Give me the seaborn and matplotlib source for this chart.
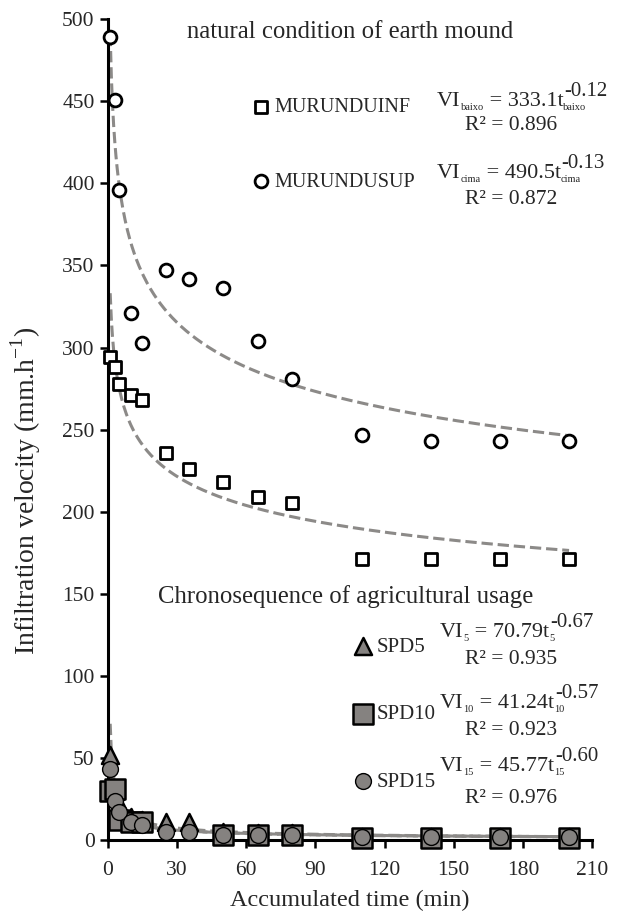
import numpy as np
import pandas as pd
import matplotlib
matplotlib.use("Agg")
import matplotlib.pyplot as plt
import seaborn as sns

# time of each reading (min)
time_min = [1, 3, 5, 10, 15, 25, 35, 50, 65, 80, 110, 140, 170, 200]

# natural condition of the earth mound (mm/h)
murundu_inf = [294, 288, 278, 271, 268, 236, 226, 218, 209, 205, 171, 171, 171, 171]
murundu_sup = [489, 451, 396, 321, 303, 347, 342, 336, 304, 281, 247, 243, 243, 243]

# chronosequence of agricultural usage (mm/h)
spd5 = [52, 30, 22, 14, 12, 11, 11, 5, 4, 4, 2, 2, 2, 2]
spd10 = [30, 31, 12, 11, 11, np.nan, np.nan, 3, 3, 3, 1, 1, 1, 1]
spd15 = [43, 24, 17, 11, 9, 5, 5, 3, 3, 3, 2, 2, 2, 2]

# power fits VI = a * t^b, as printed on the chart
fit_names = ["MURUNDUINF", "MURUNDUSUP", "SPD5", "SPD10", "SPD15"]
fit_a = [333.1, 490.5, 70.79, 41.24, 45.77]
fit_b = [-0.12, -0.13, -0.67, -0.57, -0.60]
fit_sub = ["baixo", "cima", "5", "10", "15"]
fit_r2 = ["0.896", "0.872", "0.935", "0.923", "0.976"]

x_ticks = [0, 30, 60, 90, 120, 150, 180, 210]
y_ticks = [0, 50, 100, 150, 200, 250, 300, 350, 400, 450, 500]

sns.set_style("ticks")
plt.rcParams['font.family'] = ['Liberation Serif', 'DejaVu Serif']
plt.rcParams['mathtext.fontset'] = 'custom'
plt.rcParams['mathtext.rm'] = 'Liberation Serif'

fig = plt.figure(figsize=(6.2, 9.17), dpi=100)
ax = fig.add_axes([0.174, 0.084, 0.781, 0.895])

# fitted curves
t_fit = np.linspace(1, 200, 400)
fit_df = pd.concat([
    pd.DataFrame({"t": t_fit, "v": a * t_fit ** b, "serie": n})
    for n, a, b in zip(fit_names, fit_a, fit_b)
])
for n in fit_names:
    sns.lineplot(data=fit_df[fit_df["serie"] == n], x="t", y="v", ax=ax,
                 color="#8c8a88", lw=2.2, dashes=(2.3, 1.3), linestyle="--",
                 legend=False, zorder=2)

mk_open = dict(color="white", edgecolor="black", linewidth=2.0, clip_on=False, zorder=4)
sns.scatterplot(x=time_min, y=murundu_inf, marker="s", s=85, ax=ax, label="MURUNDUINF", **mk_open)
sns.scatterplot(x=time_min, y=murundu_sup, marker="o", s=85, ax=ax, label="MURUNDUSUP", **mk_open)

mk_grey = dict(color="#858280", edgecolor="black", linewidth=1.8, clip_on=False)
sns.scatterplot(x=time_min, y=spd5, marker="^", s=150, ax=ax, label="SPD5", zorder=5, **mk_grey)
sns.scatterplot(x=time_min, y=spd10, marker="s", s=190, ax=ax, label="SPD10", zorder=6, **mk_grey)
sns.scatterplot(x=time_min, y=spd15, marker="o", s=130, ax=ax, label="SPD15", zorder=7,
                color="#858280", edgecolor="#858280", linewidth=1.0, clip_on=False)

handles, labels = ax.get_legend_handles_labels()
if ax.get_legend():
    ax.get_legend().remove()

leg1 = ax.legend(handles[:2], labels[:2], loc="upper left", bbox_to_anchor=(251 / 620, 1 - 98 / 917),
                 bbox_transform=fig.transFigure, frameon=False, fontsize=14.5,
                 handletextpad=0.15, handlelength=1.0, labelspacing=2.75, borderpad=0, borderaxespad=0)
ax.add_artist(leg1)
h5 = handles[2:]
h5[2].set_edgecolor("black")
ax.legend(h5, labels[2:], loc="upper left", bbox_to_anchor=(353 / 620, 1 - 637 / 917),
          bbox_transform=fig.transFigure, frameon=False, fontsize=15,
          handletextpad=0.15, handlelength=1.0, labelspacing=2.3, borderpad=0, borderaxespad=0)

renderer = fig.canvas.get_renderer()


def ft(x, y, s, size=16, ha="left", dy=0):
    return fig.text(x / 620, 1 - (y - dy) / 917, s, fontsize=size, ha=ha, va="baseline")


def eq(x, y, a, b, sub):
    # y is the baseline in pixels from the top
    t = ft(x, y, "VI")
    px = t.get_window_extent(renderer).x1
    t = ft(px, y, sub, 7.5, dy=-4)
    px = t.get_window_extent(renderer).x1
    t = ft(px, y, f" = {a}t")
    px = t.get_window_extent(renderer).x1
    ft(px, y, sub, 7.5, dy=-4)
    ft(px + 1, y, f"{b:.2f}", 15, dy=10)


ft(350, 38, "natural condition of earth mound", 17.8, "center")
ft(346, 603, "Chronosequence of agricultural usage", 17.8, "center")

eq_x = [437, 437, 440, 440, 440]
eq_y = [106, 178, 637, 708, 771]
r2_y = [130, 204, 664, 735, 803]
for a, b, s, r2, ex, ey, ry in zip(fit_a, fit_b, fit_sub, fit_r2, eq_x, eq_y, r2_y):
    eq(ex, ey, a, b, s)
    ft(511, ry, f"R² = {r2}", 15.5, "center")

ax.set_xlim(0, 210)
ax.set_ylim(0, 500)
ax.set_xticks(x_ticks)
ax.set_yticks(y_ticks)
ax.tick_params(labelsize=15.5, width=1.8, length=6, direction="out", color="black")
ax.tick_params(axis="x", pad=9)
ax.set_xlabel("Accumulated time (min)", fontsize=17.5, labelpad=7)
ax.set_ylabel(r"Infiltration velocity (mm.h$^{\mathrm{-1}}$)", fontsize=20)
ax.yaxis.set_label_coords(-0.135, 0.425)
sns.despine(ax=ax)
for sp in ["left", "bottom"]:
    ax.spines[sp].set_linewidth(2.2)
    ax.spines[sp].set_color("black")

fig.savefig("out.png", dpi=100)
